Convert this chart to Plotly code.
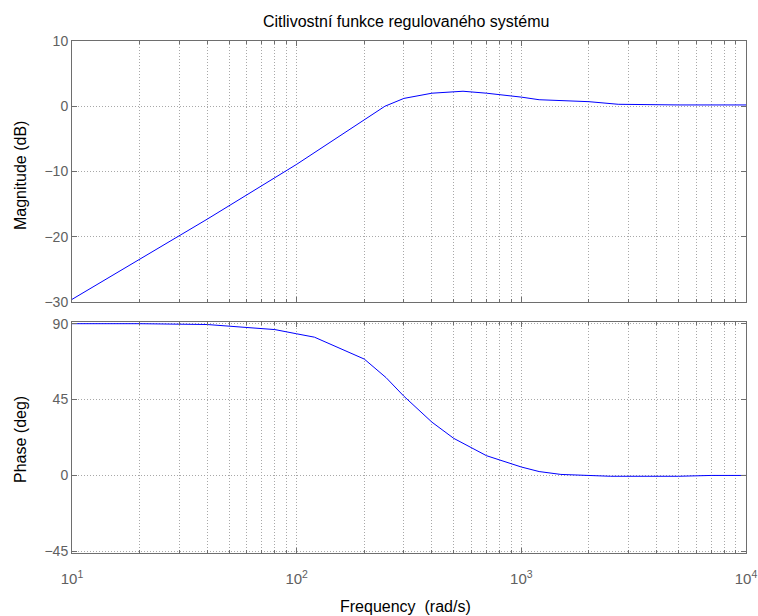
import plotly.graph_objects as go

freq_mag = [10, 20, 40, 100, 200, 247, 300, 400, 550, 700, 1000, 1200, 2000, 2700, 5000, 10000]
mag_db = [-29.6, -23.5, -17.3, -8.9, -2.0, 0.0, 1.2, 2.0, 2.3, 2.0, 1.4, 1.0, 0.7, 0.3, 0.2, 0.2]

freq_ph = [10, 20, 40, 60, 80, 100, 120, 200, 250, 300, 400, 500, 700, 1000, 1200, 1500, 2500, 5000, 7000, 10000]
phase_deg = [90, 90, 89.5, 88, 86.5, 84, 82, 69, 58, 47, 31.6, 22, 11.7, 5, 2.3, 0.6, -0.5, -0.5, 0, 0]

x_tickvals = [10, 100, 1000, 10000]
x_ticktext = ["10<sup>1</sup>", "10<sup>2</sup>", "10<sup>3</sup>", "10<sup>4</sup>"]
mag_ticks = [-30, -20, -10, 0, 10]
phase_ticks = [-45, 0, 45, 90]

minor_vals = [m * d for d in (10, 100, 1000) for m in range(2, 10)]

W, H = 758, 616
# target plot area in page pixels: x 72..746, y 41..553
L, T = 72, 41
R = W - 746
B = H - 553
plot_h = H - T - B
plot_w = W - L - R
ph_h = 553 - 322

fig = go.Figure()
fig.add_trace(go.Scatter(x=freq_mag, y=mag_db, mode="lines", line=dict(color="#0000ff", width=1),
                         xaxis="x", yaxis="y", showlegend=False))
fig.add_trace(go.Scatter(x=freq_ph, y=phase_deg, mode="lines", line=dict(color="#0000ff", width=1),
                         xaxis="x2", yaxis="y2", showlegend=False))

grid = "#a8a8a8"
axcol = "#6e6e6e"
gdash = "1px,2px"
fnt = "Liberation Sans, Arial"
common_x = dict(type="log", range=[1, 4], showline=True, linecolor=axcol, linewidth=1, mirror="ticks",
                ticks="inside", ticklen=5, tickcolor=axcol, showgrid=True, gridcolor=grid, griddash=gdash,
                gridwidth=1, zeroline=False, tickvals=x_tickvals,
                minor=dict(tickvals=minor_vals, ticks="inside", ticklen=3, tickcolor=axcol,
                           showgrid=True, gridcolor=grid, griddash=gdash, gridwidth=1),
                tickfont=dict(family=fnt, size=15, color="#606060"))
common_y = dict(showline=True, linecolor=axcol, linewidth=1, mirror="ticks", ticks="inside", ticklen=5,
                tickcolor=axcol, showgrid=True, gridcolor=grid, griddash=gdash, gridwidth=1, zeroline=False,
                tickfont=dict(family=fnt, size=14, color="#606060"))

lab = dict(family=fnt, size=16, color="black")
fig.update_layout(
    width=W, height=H,
    margin=dict(l=L, r=R, t=T, b=B, autoexpand=False),
    paper_bgcolor="white", plot_bgcolor="white",
    xaxis=dict(common_x, anchor="y", showticklabels=False, matches="x2"),
    xaxis2=dict(common_x, anchor="y2", ticktext=x_ticktext, ticklabelstandoff=12),
    yaxis=dict(common_y, domain=[(553 - 302) / plot_h, 1], range=[-30, 10], tickvals=mag_ticks),
    yaxis2=dict(common_y, domain=[0, ph_h / plot_h], range=[-46, 91], tickvals=phase_ticks),
    annotations=[
        dict(text="Citlivostní funkce regulovaného systému", x=(406 - 72) / plot_w, xref="paper",
             y=1 + (41 - 21) / plot_h, yref="paper", yanchor="middle",
             showarrow=False, font=lab),
        dict(text="Magnitude (dB)", textangle=-90, x=(20 - 72) / plot_w, xref="paper", xanchor="center",
             y=(553 - 176) / plot_h, yref="paper", yanchor="middle", showarrow=False, font=lab),
        dict(text="Phase (deg)", textangle=-90, x=(20 - 72) / plot_w, xref="paper", xanchor="center",
             y=(553 - 440) / plot_h, yref="paper", yanchor="middle", showarrow=False, font=lab),
        dict(text="Frequency &nbsp;(rad/s)", x=(405 - 72) / plot_w, xref="paper", y=-(606 - 553) / plot_h,
             yref="paper", yanchor="middle", showarrow=False, font=lab),
    ],
)

fig.write_html("out.html", config={"displayModeBar": False},
               post_script="document.body.style.margin='0';document.body.style.overflow='hidden';")
